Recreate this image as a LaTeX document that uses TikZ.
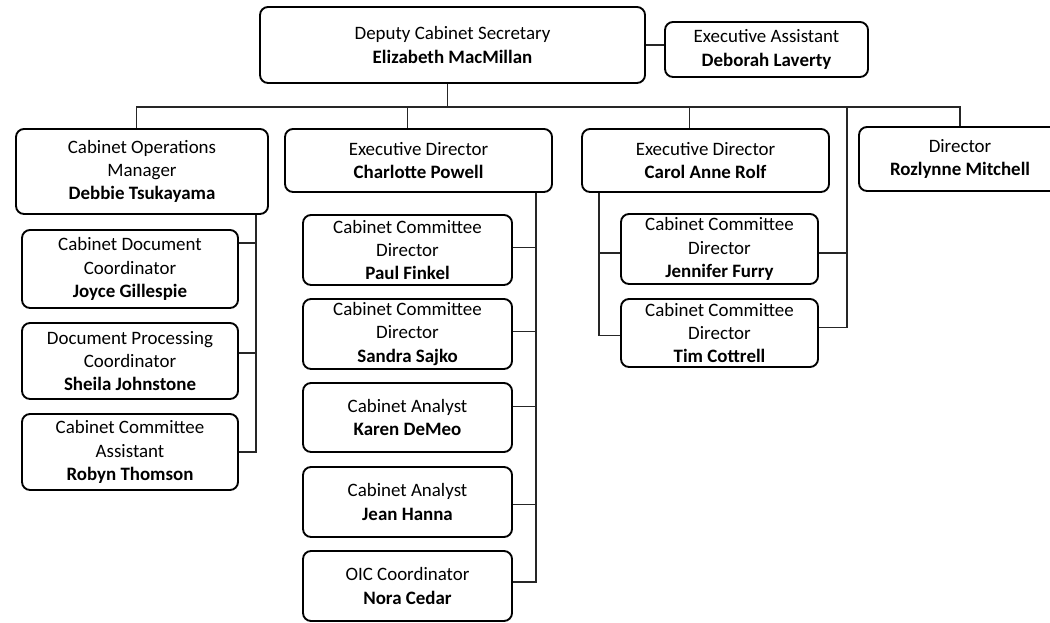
\documentclass[tikz,border=0pt]{standalone}
\usepackage{fontspec}
\setmainfont{Carlito}
\begin{document}
\begin{tikzpicture}[x=0.75pt,y=-0.75pt,
  orgbox/.style 2 args={draw=black, line width=1.4pt, rounded corners=6pt,
    minimum width=#1*0.75pt, minimum height=#2*0.75pt, align=center,
    inner sep=0pt, font=\fontsize{14.2}{17.4}\selectfont},
  link/.style={draw=black!85, line width=0.8pt}]
\useasboundingbox (0,0) rectangle (1050,623);

% top
\node[orgbox={385}{76}] (dep) at (452.5,45) {Deputy Cabinet Secretary\\\textbf{Elizabeth MacMillan}};
\node[orgbox={203}{55}] (ea) at (766.5,49.5) {Executive Assistant\\\textbf{Deborah Laverty}};

% second row
\node[orgbox={252}{85}] (ops) at (142,171.5) {Cabinet Operations\\Manager\\\textbf{Debbie Tsukayama}};
\node[orgbox={267}{63}] (cp) at (418.5,160.5) {Executive Director\\\textbf{Charlotte Powell}};
\node[orgbox={247}{63}] (car) at (705.5,160.5) {Executive Director\\\textbf{Carol Anne Rolf}};
\node[orgbox={202}{64}] (dir) at (960,159) {Director\\\textbf{Rozlynne Mitchell}};

% ops column
\node[orgbox={216}{78}] (joy) at (130,269) {Cabinet Document\\Coordinator\\\textbf{Joyce Gillespie}};
\node[orgbox={216}{76}] (she) at (130,361) {Document Processing\\Coordinator\\\textbf{Sheila Johnstone}};
\node[orgbox={216}{76}] (rob) at (130,452) {Cabinet Committee\\Assistant\\\textbf{Robyn Thomson}};

% Charlotte column
\node[orgbox={209}{70}] (paul) at (407.5,250) {Cabinet Committee\\Director\\\textbf{Paul Finkel}};
\node[orgbox={209}{70}] (san) at (407.5,334) {Cabinet Committee\\Director\\\textbf{Sandra Sajko}};
\node[orgbox={209}{69}] (kar) at (407.5,417.5) {Cabinet Analyst\\\textbf{Karen DeMeo}};
\node[orgbox={209}{70}] (jean) at (407.5,502) {Cabinet Analyst\\\textbf{Jean Hanna}};
\node[orgbox={209}{70}] (nora) at (407.5,586) {OIC Coordinator\\\textbf{Nora Cedar}};

% Carol column
\node[orgbox={197}{70}] (jen) at (719.5,249) {Cabinet Committee\\Director\\\textbf{Jennifer Furry}};
\node[orgbox={197}{68}] (tim) at (719.5,333) {Cabinet Committee\\Director\\\textbf{Tim Cottrell}};

% helper coordinates
\coordinate (bus) at (0,107);
\coordinate (ol) at (256,0);
\coordinate (cpl) at (536,0);
\coordinate (cl) at (599,0);
\coordinate (rl) at (847,107);

% connectors
\draw[link] (dep.east) -- (dep.east -| ea.west);
\draw[link] ([xshift=-4pt]dep.south) -- ([xshift=-4pt]dep.south |- bus);
\draw[link] ([xshift=-4pt]ops.north) |- (bus -| dir.north) -- (dir.north);
\draw[link] ([xshift=-8pt]cp.north) -- ([xshift=-8pt]cp.north |- bus);
\draw[link] ([xshift=-12pt]car.north) -- ([xshift=-12pt]car.north |- bus);

% ops subordinates
\draw[link] (ops.south -| ol) |- (rob.east);
\draw[link] ([yshift=19.5pt]joy.east) -- ([yshift=19.5pt]joy.east -| ol);
\draw[link] ([yshift=6pt]she.east) -- ([yshift=6pt]she.east -| ol);

% Charlotte subordinates
\draw[link] (cp.south -| cpl) |- ([yshift=3pt]nora.east);
\draw[link] ([yshift=2pt]paul.east) -- ([yshift=2pt]paul.east -| cpl);
\draw[link] ([yshift=2pt]san.east) -- ([yshift=2pt]san.east -| cpl);
\draw[link] ([yshift=8pt]kar.east) -- ([yshift=8pt]kar.east -| cpl);
\draw[link] ([yshift=-2pt]jean.east) -- ([yshift=-2pt]jean.east -| cpl);

% Carol subordinates
\draw[link] (car.south -| cl) |- ([yshift=-2pt]tim.west);
\draw[link] ([yshift=-3pt]jen.west) -- ([yshift=-3pt]jen.west -| cl);
\draw[link] (rl) |- ([yshift=4pt]tim.east);
\draw[link] ([yshift=-3pt]jen.east) -- ([yshift=-3pt]jen.east -| rl);
\end{tikzpicture}
\end{document}
